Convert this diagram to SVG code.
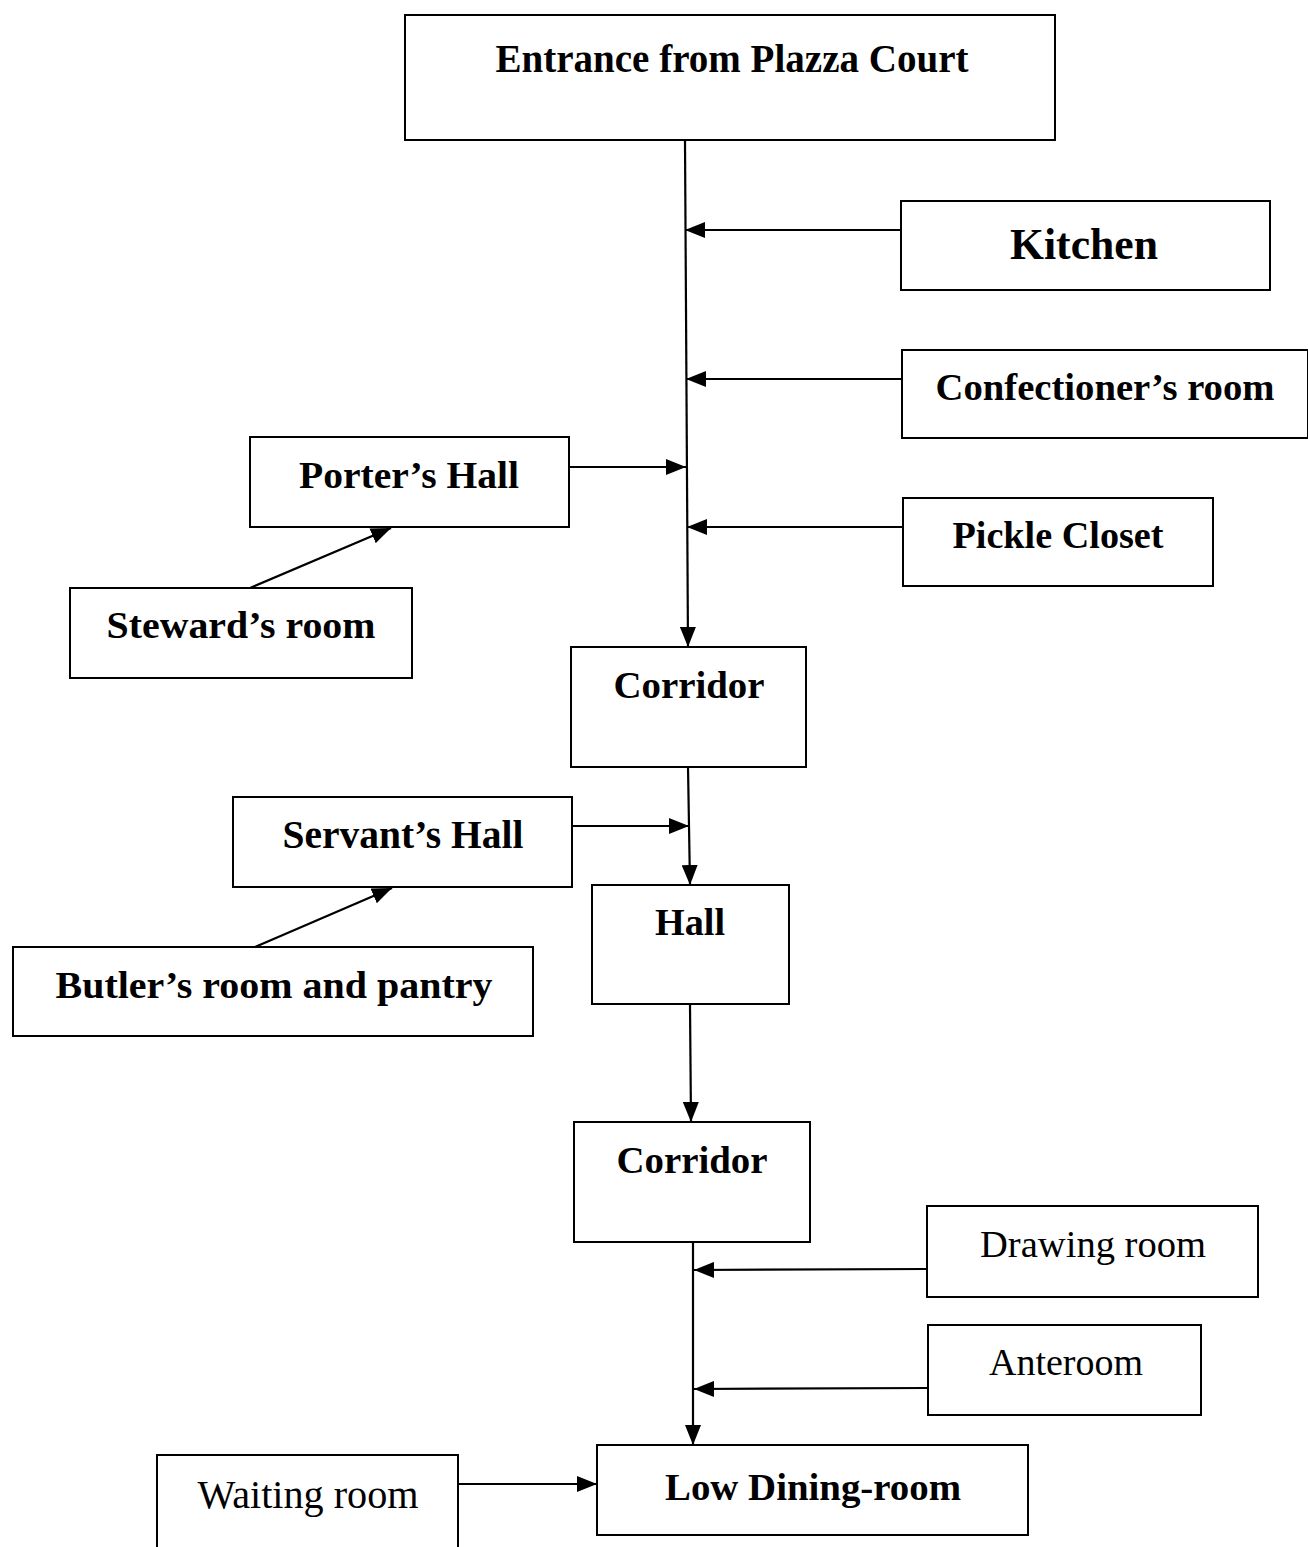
<svg xmlns="http://www.w3.org/2000/svg" width="1308" height="1547" viewBox="0 0 1308 1547">
<style>
.box{fill:#fff;stroke:#000;stroke-width:2}
.b{font-family:"Liberation Serif","Times New Roman",serif;font-weight:bold;font-size:38px;text-anchor:middle;fill:#000}
.r{font-family:"Liberation Serif","Times New Roman",serif;font-size:38px;text-anchor:middle;fill:#000}
.c{stroke:#000;stroke-width:2.2;fill:none;marker-end:url(#ah)}
</style>
<defs>
<marker id="ah" markerWidth="20" markerHeight="16" refX="20" refY="8" orient="auto" markerUnits="userSpaceOnUse"><path d="M0,0 L20,8 L0,16 z" fill="#000"/></marker>
</defs>
<rect width="1308" height="1547" fill="#fff"/>
<g id="connectors">
<line class="c" x1="685" y1="141" x2="688" y2="647"/>
<line class="c" x1="901" y1="230" x2="685" y2="230"/>
<line class="c" x1="902" y1="379" x2="686" y2="379"/>
<line class="c" x1="569" y1="467" x2="686" y2="467"/>
<line class="c" x1="903" y1="527" x2="687" y2="527"/>
<line class="c" x1="250" y1="588" x2="391" y2="528"/>
<line class="c" x1="688" y1="767" x2="690" y2="885"/>
<line class="c" x1="572" y1="826" x2="689" y2="826"/>
<line class="c" x1="255" y1="947" x2="392" y2="888"/>
<line class="c" x1="690" y1="1004" x2="691" y2="1122"/>
<line class="c" x1="693" y1="1242" x2="693" y2="1445"/>
<line class="c" x1="927" y1="1269" x2="694" y2="1270"/>
<line class="c" x1="928" y1="1388" x2="694" y2="1389"/>
<line class="c" x1="458" y1="1484" x2="597" y2="1484"/>
</g>
<g id="entrance"><rect class="box" x="405" y="15" width="650" height="125"/><text class="b" x="732" y="72" style="font-size:40px" textLength="473" lengthAdjust="spacingAndGlyphs">Entrance from Plazza Court</text></g>
<g id="kitchen"><rect class="box" x="901" y="201" width="369" height="89"/><text class="b" x="1084" y="259" style="font-size:44px" textLength="148" lengthAdjust="spacingAndGlyphs">Kitchen</text></g>
<g id="confectioner"><rect class="box" x="902" y="350" width="406" height="88"/><text class="b" x="1105" y="400" textLength="339" lengthAdjust="spacingAndGlyphs">Confectioner’s room</text></g>
<g id="porter"><rect class="box" x="250" y="437" width="319" height="90"/><text class="b" x="409" y="488" textLength="220" lengthAdjust="spacingAndGlyphs">Porter’s Hall</text></g>
<g id="pickle"><rect class="box" x="903" y="498" width="310" height="88"/><text class="b" x="1058" y="548" textLength="211" lengthAdjust="spacingAndGlyphs">Pickle Closet</text></g>
<g id="steward"><rect class="box" x="70" y="588" width="342" height="90"/><text class="b" x="241" y="638" textLength="269" lengthAdjust="spacingAndGlyphs">Steward’s room</text></g>
<g id="corridor1"><rect class="box" x="571" y="647" width="235" height="120"/><text class="b" x="689" y="698" textLength="151" lengthAdjust="spacingAndGlyphs">Corridor</text></g>
<g id="servant"><rect class="box" x="233" y="797" width="339" height="90"/><text class="b" x="403" y="848" style="font-size:39px" textLength="241" lengthAdjust="spacingAndGlyphs">Servant’s Hall</text></g>
<g id="hall"><rect class="box" x="592" y="885" width="197" height="119"/><text class="b" x="690" y="935" textLength="70" lengthAdjust="spacingAndGlyphs">Hall</text></g>
<g id="butler"><rect class="box" x="13" y="947" width="520" height="89"/><text class="b" x="274" y="998" textLength="437" lengthAdjust="spacingAndGlyphs">Butler’s room and pantry</text></g>
<g id="corridor2"><rect class="box" x="574" y="1122" width="236" height="120"/><text class="b" x="692" y="1173" textLength="151" lengthAdjust="spacingAndGlyphs">Corridor</text></g>
<g id="drawing"><rect class="box" x="927" y="1206" width="331" height="91"/><text class="r" x="1093" y="1257" textLength="226" lengthAdjust="spacingAndGlyphs">Drawing room</text></g>
<g id="anteroom"><rect class="box" x="928" y="1325" width="273" height="90"/><text class="r" x="1066" y="1375" textLength="154" lengthAdjust="spacingAndGlyphs">Anteroom</text></g>
<g id="lowdining"><rect class="box" x="597" y="1445" width="431" height="90"/><text class="b" x="813" y="1500" textLength="296" lengthAdjust="spacingAndGlyphs">Low Dining-room</text></g>
<g id="waiting"><rect class="box" x="157" y="1455" width="301" height="110"/><text class="r" x="308" y="1508" style="font-size:39px" textLength="221" lengthAdjust="spacingAndGlyphs">Waiting room</text></g>
</svg>
